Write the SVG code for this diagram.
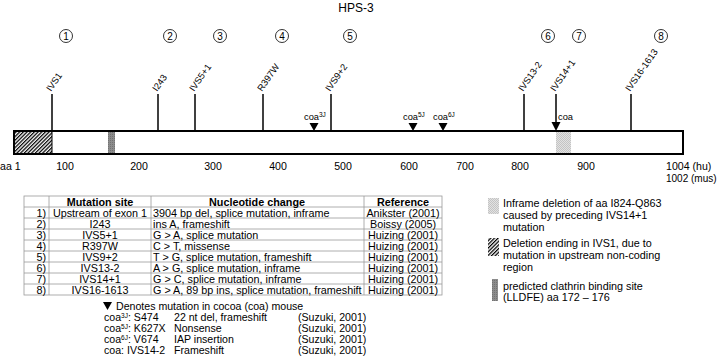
<svg xmlns="http://www.w3.org/2000/svg" width="720" height="359" viewBox="0 0 720 359">
<defs>
<pattern id="hatch" width="2.6" height="2.6" patternUnits="userSpaceOnUse" patternTransform="rotate(45)">
<rect width="2.6" height="2.6" fill="#ffffff"/>
<line x1="0.6" y1="0" x2="0.6" y2="2.6" stroke="#000" stroke-width="1.3"/>
</pattern>
<pattern id="stip" width="2" height="2" patternUnits="userSpaceOnUse">
<rect width="2" height="2" fill="#e2e2e2"/>
<rect width="1" height="1" fill="#c4c4c4"/>
<rect x="1" y="1" width="1" height="1" fill="#c4c4c4"/>
</pattern>
<pattern id="gray" width="2" height="2" patternUnits="userSpaceOnUse">
<rect width="2" height="2" fill="#8c8c8c"/>
<rect width="1" height="1" fill="#727272"/>
</pattern>
</defs>
<style>
text{font-family:"Liberation Sans",Arial,sans-serif;fill:#000}
.t{font-size:12px}
.c{font-size:10px;text-anchor:middle}
.r{font-size:9.3px}
.ax{font-size:10.6px;text-anchor:middle}
.tb{font-size:10.8px}
.th{font-size:10.8px;font-weight:bold;text-anchor:middle}
.m{text-anchor:middle}
.e{text-anchor:end}
.lg{font-size:10.6px}
.ky{font-size:10.8px}
.s{font-size:6.5px}
.circ{fill:#fff;stroke:#000;stroke-width:0.8}
.tick{stroke:#000;stroke-width:1.5}
.grid{stroke:#999;stroke-width:0.8;fill:none}
</style>
<text class="t m" x="356" y="12">HPS-3</text>

<g id="circles">
<g id="n1"><circle class="circ" cx="66" cy="36" r="6.5"/><text class="c" x="66" y="39.5">1</text></g>
<g id="n2"><circle class="circ" cx="170" cy="36" r="6.5"/><text class="c" x="170" y="39.5">2</text></g>
<g id="n3"><circle class="circ" cx="220" cy="36" r="6.5"/><text class="c" x="220" y="39.5">3</text></g>
<g id="n4"><circle class="circ" cx="282" cy="36" r="6.5"/><text class="c" x="282" y="39.5">4</text></g>
<g id="n5"><circle class="circ" cx="350" cy="36" r="6.5"/><text class="c" x="350" y="39.5">5</text></g>
<g id="n6"><circle class="circ" cx="548" cy="36" r="6.5"/><text class="c" x="548" y="39.5">6</text></g>
<g id="n7"><circle class="circ" cx="579" cy="36" r="6.5"/><text class="c" x="579" y="39.5">7</text></g>
<g id="n8"><circle class="circ" cx="661" cy="36" r="6.5"/><text class="c" x="661" y="39.5">8</text></g>
</g>

<g id="protein">
<rect x="14" y="131" width="669" height="23" fill="#fff" stroke="#000" stroke-width="2"/>
<rect x="15" y="132" width="37" height="21" fill="url(#hatch)"/>
<line x1="52" y1="132" x2="52" y2="153" stroke="#000" stroke-width="1"/>
<rect x="108" y="132" width="7" height="21" fill="url(#gray)"/>
<rect x="556" y="132" width="15" height="21" fill="url(#stip)"/>
</g>

<g id="connectors">
<line class="tick" x1="52" y1="94" x2="52" y2="131"/>
<line class="tick" x1="158" y1="94" x2="158" y2="131"/>
<line class="tick" x1="195" y1="94" x2="195" y2="131"/>
<line class="tick" x1="263" y1="94" x2="263" y2="131"/>
<line class="tick" x1="331" y1="94" x2="331" y2="131"/>
<line class="tick" x1="524" y1="94" x2="524" y2="131"/>
<line class="tick" x1="556" y1="94" x2="556" y2="124"/>
<polygon points="551.5,122 560.5,122 556,131" fill="#000"/>
<line class="tick" x1="631" y1="94" x2="631" y2="131"/>
<polygon points="309.5,123 318.5,123 314,131" fill="#000"/>
<polygon points="408.5,123 417.5,123 413,131" fill="#000"/>
<polygon points="438.5,123 447.5,123 443,131" fill="#000"/>
</g>

<g id="site-labels">
<text class="r" transform="translate(51,92) rotate(-55)">IVS1</text>
<text class="r" transform="translate(157,92) rotate(-55)">I243</text>
<text class="r" transform="translate(194,92) rotate(-55)">IVS5+1</text>
<text class="r" transform="translate(262,92) rotate(-55)">R397W</text>
<text class="r" transform="translate(330,92) rotate(-55)">IVS9+2</text>
<text class="r" transform="translate(523,92) rotate(-55)">IVS13-2</text>
<text class="r" transform="translate(555,92) rotate(-55)">IVS14+1</text>
<text class="r" transform="translate(630,92) rotate(-55)">IVS16-1613</text>
</g>

<g id="coa-labels">
<text class="r" x="304" y="120">coa<tspan class="s" dy="-3">3J</tspan></text>
<text class="r" x="403" y="120">coa<tspan class="s" dy="-3">5J</tspan></text>
<text class="r" x="433" y="120">coa<tspan class="s" dy="-3">6J</tspan></text>
<text class="r" x="558" y="120">coa</text>
</g>

<g id="axis">
<text class="ax" x="0" y="170" style="text-anchor:start">aa 1</text>
<text class="ax" x="65" y="170">100</text>
<text class="ax" x="139" y="170">200</text>
<text class="ax" x="213" y="170">300</text>
<text class="ax" x="278" y="170">400</text>
<text class="ax" x="343" y="170">500</text>
<text class="ax" x="409" y="170">600</text>
<text class="ax" x="465" y="170">700</text>
<text class="ax" x="520" y="170">800</text>
<text class="ax" x="586" y="170">900</text>
<text class="ax" x="666" y="170" style="text-anchor:start">1004 (hu)</text>
<text class="ax" x="666" y="182" style="text-anchor:start;font-size:10px">1002 (mus)</text>
</g>

<g id="table">
<rect x="24" y="196" width="418" height="99" class="grid"/>
<line class="grid" x1="49" y1="196" x2="49" y2="295"/>
<line class="grid" x1="151" y1="196" x2="151" y2="295"/>
<line class="grid" x1="364" y1="196" x2="364" y2="295"/>
<line class="grid" x1="24" y1="207" x2="442" y2="207"/>
<line class="grid" x1="24" y1="218" x2="442" y2="218"/>
<line class="grid" x1="24" y1="229" x2="442" y2="229"/>
<line class="grid" x1="24" y1="240" x2="442" y2="240"/>
<line class="grid" x1="24" y1="251" x2="442" y2="251"/>
<line class="grid" x1="24" y1="262" x2="442" y2="262"/>
<line class="grid" x1="24" y1="273" x2="442" y2="273"/>
<line class="grid" x1="24" y1="284" x2="442" y2="284"/>
<text class="th" x="100" y="205.5">Mutation site</text>
<text class="th" x="257" y="205.5">Nucleotide change</text>
<text class="th" x="403" y="205.5">Reference</text>
<g class="tb">
<text class="e" x="46" y="216.5">1)</text><text class="m" x="100" y="216.5">Upstream of exon 1</text><text x="153" y="216.5">3904 bp del, splice mutation, inframe</text><text class="m" x="403" y="216.5">Anikster (2001)</text>
<text class="e" x="46" y="227.5">2)</text><text class="m" x="100" y="227.5">I243</text><text x="153" y="227.5">ins A, frameshift</text><text class="m" x="403" y="227.5">Boissy (2005)</text>
<text class="e" x="46" y="238.5">3)</text><text class="m" x="100" y="238.5">IVS5+1</text><text x="153" y="238.5">G &gt; A, splice mutation</text><text class="m" x="403" y="238.5">Huizing (2001)</text>
<text class="e" x="46" y="249.5">4)</text><text class="m" x="100" y="249.5">R397W</text><text x="153" y="249.5">C &gt; T, missense</text><text class="m" x="403" y="249.5">Huizing (2001)</text>
<text class="e" x="46" y="260.5">5)</text><text class="m" x="100" y="260.5">IVS9+2</text><text x="153" y="260.5">T &gt; G, splice mutation, frameshift</text><text class="m" x="403" y="260.5">Huizing (2001)</text>
<text class="e" x="46" y="271.5">6)</text><text class="m" x="100" y="271.5">IVS13-2</text><text x="153" y="271.5">A &gt; G, splice mutation, inframe</text><text class="m" x="403" y="271.5">Huizing (2001)</text>
<text class="e" x="46" y="282.5">7)</text><text class="m" x="100" y="282.5">IVS14+1</text><text x="153" y="282.5">G &gt; C, splice mutation, inframe</text><text class="m" x="403" y="282.5">Huizing (2001)</text>
<text class="e" x="46" y="293.5">8)</text><text class="m" x="100" y="293.5">IVS16-1613</text><text x="153" y="293.5">G &gt; A, 89 bp ins, splice mutation, frameshift</text><text class="m" x="403" y="293.5">Huizing (2001)</text>
</g>
</g>

<g id="coa-legend" class="lg">
<polygon points="103,302 112,302 107.5,310" fill="#000"/>
<text x="116" y="310">Denotes mutation in cocoa (coa) mouse</text>
<text x="104" y="321">coa<tspan class="s" dy="-3.5">3J</tspan><tspan dy="3.5">: S474</tspan></text>
<text x="174" y="321">22 nt del, frameshift</text>
<text x="298" y="321">(Suzuki, 2001)</text>
<text x="104" y="332">coa<tspan class="s" dy="-3.5">5J</tspan><tspan dy="3.5">: K627X</tspan></text>
<text x="174" y="332">Nonsense</text>
<text x="298" y="332">(Suzuki, 2001)</text>
<text x="104" y="343">coa<tspan class="s" dy="-3.5">6J</tspan><tspan dy="3.5">: V674</tspan></text>
<text x="174" y="343">IAP insertion</text>
<text x="298" y="343">(Suzuki, 2001)</text>
<text x="104" y="354">coa: IVS14-2</text>
<text x="174" y="354">Frameshift</text>
<text x="298" y="354">(Suzuki, 2001)</text>
</g>

<g id="key" class="ky">
<rect x="488" y="198" width="11" height="16" fill="url(#stip)"/>
<text x="503" y="207">Inframe deletion of aa I824-Q863</text>
<text x="503" y="219">caused by preceding IVS14+1</text>
<text x="503" y="231">mutation</text>
<rect x="488" y="238" width="11" height="18" fill="url(#hatch)"/>
<text x="503" y="247">Deletion ending in IVS1, due to</text>
<text x="503" y="259">mutation in upstream non-coding</text>
<text x="503" y="271">region</text>
<rect x="492" y="279" width="6" height="22" fill="url(#gray)"/>
<text x="503" y="290">predicted clathrin binding site</text>
<text x="503" y="301">(LLDFE) aa 172 – 176</text>
</g>
</svg>
